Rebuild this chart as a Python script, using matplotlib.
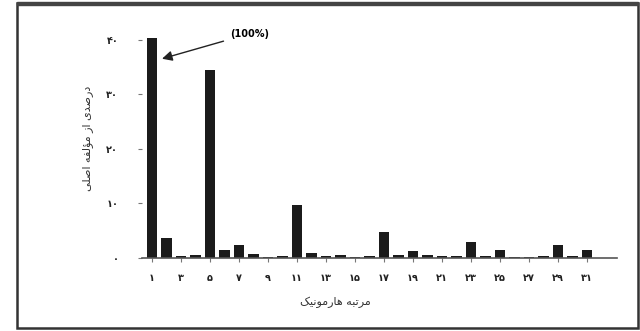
import matplotlib
matplotlib.use("Agg")
import matplotlib.pyplot as plt
from matplotlib.patches import Rectangle

# harmonic spectrum, percent of fundamental (fundamental cut off at top of axis)
harmonics = list(range(1, 32))
percent = [100, 3.6, 0.4, 0.5, 34.5, 1.5, 2.4, 0.7, 0.2, 0.4,
           9.7, 1.0, 0.3, 0.5, 0.2, 0.3, 4.7, 0.6, 1.2, 0.5,
           0.3, 0.4, 3.0, 0.3, 1.4, 0.2, 0.2, 0.3, 2.3, 0.3, 1.4]
xtick_vals = list(range(1, 32, 2))
ytick_vals = [0, 10, 20, 30, 40]
ylabel_txt = "درصدی از مؤلفه اصلی"
xlabel_txt = "مرتبه هارمونیک"
note_txt = "(100%)"

# contextual forms: isolated, final, initial, medial
FORMS = {
    "ا": ("\uFE8D", "\uFE8E"), "د": ("\uFEA9", "\uFEAA"),
    "ر": ("\uFEAD", "\uFEAE"), "ز": ("\uFEAF", "\uFEB0"),
    "و": ("\uFEED", "\uFEEE"), "ؤ": ("\uFE85", "\uFE86"),
    "ص": ("\uFEB9", "\uFEBA", "\uFEBB", "\uFEBC"),
    "م": ("\uFEE1", "\uFEE2", "\uFEE3", "\uFEE4"),
    "ل": ("\uFEDD", "\uFEDE", "\uFEDF", "\uFEE0"),
    "ف": ("\uFED1", "\uFED2", "\uFED3", "\uFED4"),
    "ه": ("\uFEE9", "\uFEEA", "\uFEEB", "\uFEEC"),
    "ت": ("\uFE95", "\uFE96", "\uFE97", "\uFE98"),
    "ب": ("\uFE8F", "\uFE90", "\uFE91", "\uFE92"),
    "ن": ("\uFEE5", "\uFEE6", "\uFEE7", "\uFEE8"),
    "ی": ("\uFBFC", "\uFBFD", "\uFBFE", "\uFBFF"),
    "ک": ("\uFB8E", "\uFB8F", "\uFB90", "\uFB91"),
}


def shape(text):
    out = []
    for i, ch in enumerate(text):
        if ch not in FORMS:
            out.append(ch)
            continue
        prev = text[i - 1] if i > 0 else " "
        nxt = text[i + 1] if i + 1 < len(text) else " "
        jp = prev in FORMS and len(FORMS[prev]) == 4
        jn = len(FORMS[ch]) == 4 and nxt in FORMS
        f = FORMS[ch]
        if jp and jn:
            out.append(f[3])
        elif jp:
            out.append(f[1])
        elif jn:
            out.append(f[2])
        else:
            out.append(f[0])
    return "".join(out)[::-1]


def fa_digits(n):
    return str(n).translate(str.maketrans("0123456789", "۰۱۲۳۴۵۶۷۸۹"))


plt.rcParams['font.family'] = ['DejaVu Sans']

fig = plt.figure(figsize=(6.4, 3.31), dpi=100)
ax = fig.add_axes([142 / 640, 1 - 258 / 331, 475 / 640, 220 / 331])

ax.bar(harmonics, percent, width=0.7, color="#1b1b1b")
ax.set_xlim(0.31, 33.07)
ax.set_ylim(0, 40.3)

ax.set_xticks(xtick_vals)
ax.set_xticklabels([fa_digits(v) for v in xtick_vals], fontsize=7, fontweight="bold", color="#222222")
ax.set_yticks(ytick_vals)
ax.set_yticklabels([fa_digits(v) for v in ytick_vals], fontsize=7, fontweight="bold", color="#222222")
ax.tick_params(axis="x", length=3, width=0.8, color="#777777", pad=8)
ax.tick_params(axis="y", length=3, width=0.8, color="#777777", pad=14)

for s in ["top", "right", "left"]:
    ax.spines[s].set_visible(False)
ax.spines["bottom"].set_color("#555555")
ax.spines["bottom"].set_linewidth(1.2)

ax.annotate(note_txt, xy=(1.69, 36.5), xytext=(6.4, 41.1),
            fontsize=7, fontweight="bold", va="center", ha="left",
            annotation_clip=False,
            arrowprops=dict(arrowstyle="-|>", color="#222222", lw=1.0,
                            mutation_scale=15, shrinkA=3, shrinkB=0))

fig.text(88 / 640, 1 - 138 / 331, shape(ylabel_txt), rotation=90,
         ha="center", va="center", fontsize=8, color="#333333")
fig.text(335 / 640, 1 - 302 / 331, shape(xlabel_txt),
         ha="center", va="center", fontsize=8, color="#333333")

fig.patches.append(Rectangle((17 / 640, 3 / 331), 621 / 640, 325 / 331,
                             transform=fig.transFigure, fill=False,
                             edgecolor="#333333", linewidth=1.8))
fig.patches.append(Rectangle((17 / 640, 326 / 331), 621 / 640, 3 / 331,
                             transform=fig.transFigure, color="#444444"))

fig.savefig("out.png", dpi=100)
